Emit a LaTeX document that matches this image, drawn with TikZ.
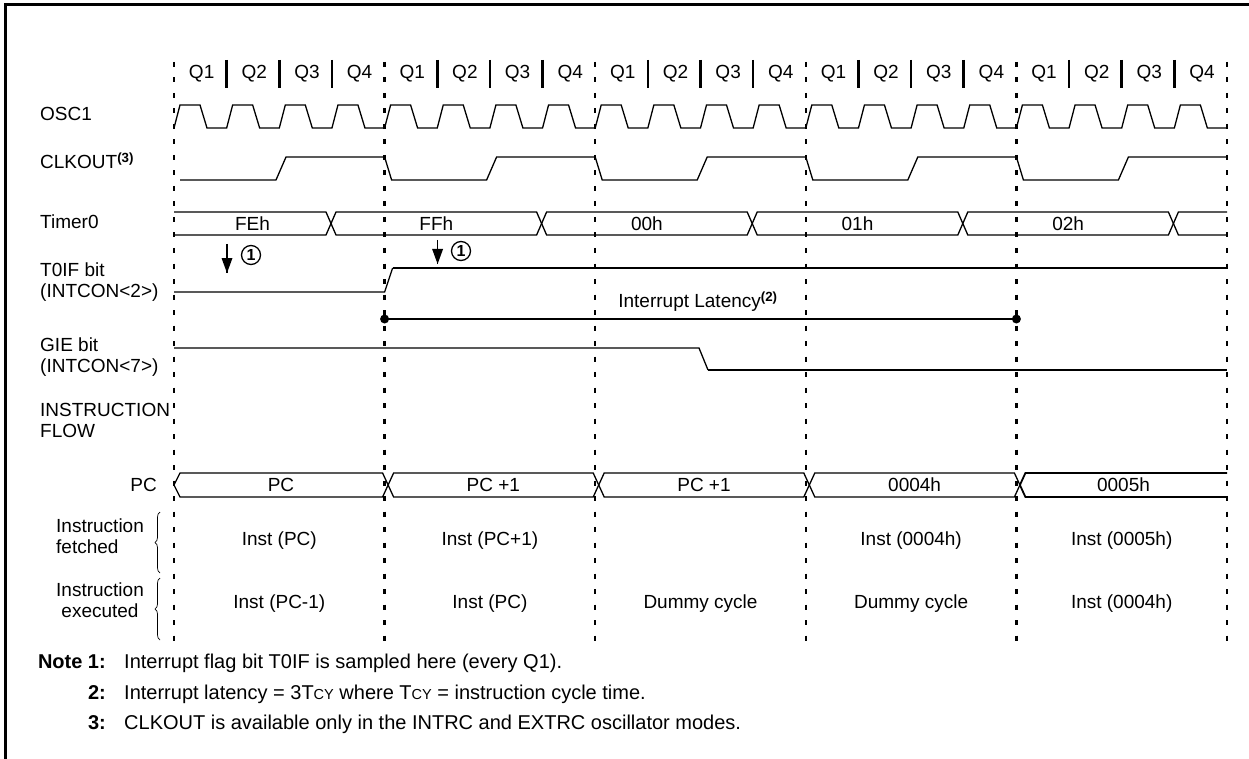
\documentclass[tikz,border=0pt]{standalone}
\usepackage{fontspec}
\setmainfont{Liberation Sans}
\usetikzlibrary{decorations.pathreplacing}

\begin{document}
\begin{tikzpicture}[x=1pt,y=1pt,yscale=-1,xscale=1,
  sig/.style={line width=1.3pt, line join=miter},
  guide/.style={line width=2.4pt, dash pattern=on 5pt off 10.5pt},
  qsep/.style={line width=2.6pt},
  lbl/.style={inner sep=0pt, font=\fontsize{19}{21}\selectfont},
  notetxt/.style={inner sep=0pt, anchor=base west, font=\fontsize{20}{22}\selectfont},
  notenum/.style={inner sep=0pt, anchor=base east, font=\fontsize{20}{22}\selectfont\bfseries},
  circnum/.style={circle, draw, line width=1.3pt, inner sep=0pt, minimum size=19pt, font=\fontsize{16}{16}\selectfont\bfseries},
  dot/.style={circle, fill, inner sep=0pt, minimum size=9pt},
  brc/.style={decorate, decoration={brace, amplitude=5pt}, line width=0.7pt}]
\useasboundingbox (0,0) rectangle (1249,759);

%Frame
\draw [line width=3pt] (5,759) -- (5,5) -- (1249,5);

%Cycle boundaries
\foreach \cx in {174,384.6,595.2,805.8,1016.4,1227} {
  \draw [guide] (\cx,62) -- (\cx,648);
}

%Q1..Q4 header
\foreach \k in {0,...,4} {
  \pgfmathsetmacro{\cx}{174+210.6*\k}
  \foreach \j in {1,2,3} {
    \draw [qsep] (\cx+52.65*\j,60) -- (\cx+52.65*\j,88);
  }
  \foreach \j in {1,...,4} {
    \node [lbl] (q\k\j) at (\cx+52.65*\j-25,74) {Q\j};
  }
}

% Text Node
\node [lbl, anchor=west] (osc) at (40,114) {OSC1};
\node [lbl, anchor=west] (clk) at (40,161) {CLKOUT\textsuperscript{\bfseries(3)}};
\node [lbl, anchor=west] (tmr) at (40,222) {Timer0};
\node [lbl, anchor=west, align=left] (toif) at (40,282) {T0IF bit\\(INTCON<2>)};
\node [lbl, anchor=west, align=left] (gie) at (40,357) {GIE bit\\(INTCON<7>)};
\node [lbl, anchor=west, align=left] (flow) at (40,420) {INSTRUCTION\\FLOW};
\node [lbl, anchor=east] (pc) at (157,485) {PC};
\node [lbl, anchor=west, align=left] (fetch) at (56,536) {Instruction\\fetched};
\node [lbl, align=center] (exec) at (100,600) {Instruction\\executed};

%OSC1
\draw [sig] (174,128) \foreach \i in {0,...,19} {
  -- ({174+52.65*\i+6},105) -- ({174+52.65*\i+26},105)
  -- ({174+52.65*\i+33},128) -- ({174+52.65*(\i+1)},128) };

%CLKOUT
\draw [sig] (180,180) -- (276,180) -- (286,157)
  \foreach \c in {384.6,595.2,805.8,1016.4} {
  -- (\c,157) -- (\c+7,180) -- (\c+102,180) -- (\c+112,157) } -- (1227,157);

%Timer0 bus
\draw [sig] (174,212) -- (326,212) -- (331,223.5) -- (326,235) -- (174,235);
\foreach \a/\b in {331/541.6,541.6/752.2,752.2/962.8,962.8/1173.4} {
  \draw [sig] (\a,223.5) -- (\a+5,212) -- (\b-5,212) -- (\b,223.5) -- (\b-5,235) -- (\a+5,235) -- cycle;
}
\draw [sig] (1227,212) -- (1178.4,212) -- (1173.4,223.5) -- (1178.4,235) -- (1227,235);
\node [lbl] (tfe) at (252.5,223.5) {FEh};
\node [lbl] (tff) at (436.3,223.5) {FFh};
\node [lbl] (t00) at (646.9,223.5) {00h};
\node [lbl] (t01) at (857.5,223.5) {01h};
\node [lbl] (t02) at (1068.1,223.5) {02h};

%T0IF
\draw [sig] (174,292) -- (384.6,292) -- (392.6,268);
\draw [sig, line width=1.9pt] (392.6,268) -- (1227,268);

%Sample points
\coordinate (sa1) at (227,244);
\coordinate (sb1) at (227,273);
\draw [sig, line width=1.6pt] (sa1) -- (sb1);
\fill [shift={(sb1)}] (-5.5,-15) -- (5.5,-15) -- (0,0) -- cycle;
\node [circnum] (one1) at (251,255) {1};
\coordinate (sa2) at (437.6,240);
\coordinate (sb2) at (437.6,264);
\draw [sig, line width=1.6pt] (sa2) -- (sb2);
\fill [shift={(sb2)}] (-5.5,-15) -- (5.5,-15) -- (0,0) -- cycle;
\node [circnum] (one2) at (461,251) {1};

%Interrupt latency
\node [dot] (lat0) at (384.6,319) {};
\node [dot] (lat1) at (1016.4,319) {};
\draw [line width=2.2pt] (lat0) -- (lat1);
\node [lbl] (latlbl) at (698,302) {Interrupt Latency\textsuperscript{\bfseries(2)}};

%GIE
\draw [sig] (174,348) -- (699,348) -- (708,370);
\draw [sig, line width=1.9pt] (708,370) -- (1227,370);

%PC bus
\draw [sig] (174,485) -- (180,473) -- (382.6,473) -- (388.1,485) -- (382.6,497) -- (180,497) -- cycle;
\foreach \a/\b in {388.1/598.7,598.7/809.3,809.3/1019.9} {
  \draw [sig] (\a,485) -- (\a+5.5,473) -- (\b-5.5,473) -- (\b,485) -- (\b-5.5,497) -- (\a+5.5,497) -- cycle;
}
\draw [sig, line width=1.8pt] (1227,473) -- (1025.4,473) -- (1019.9,485) -- (1025.4,497) -- (1227,497);
\node [lbl] (pc0) at (281,485) {PC};
\node [lbl] (pc1) at (493.4,485) {PC +1};
\node [lbl] (pc2) at (704,485) {PC +1};
\node [lbl] (pc3) at (914.6,485) {0004h};
\node [lbl] (pc4) at (1123.5,485) {0005h};

%Braces
\draw [brc] (160,573) -- (160,512);
\draw [brc] (160,640) -- (160,578);

%Instruction fetched
\node [lbl] (f0) at (279.3,541) {Inst (PC)};
\node [lbl] (f1) at (489.9,541) {Inst (PC+1)};
\node [lbl] (f3) at (911.1,541) {Inst (0004h)};
\node [lbl] (f4) at (1121.7,541) {Inst (0005h)};

%Instruction executed
\node [lbl] (e0) at (279.3,604) {Inst (PC-1)};
\node [lbl] (e1) at (489.9,604) {Inst (PC)};
\node [lbl] (e2) at (700.5,604) {Dummy cycle};
\node [lbl] (e3) at (911.1,604) {Dummy cycle};
\node [lbl] (e4) at (1121.7,604) {Inst (0004h)};

%Notes
\node [notenum] (n1) at (106,668) {Note 1:};
\node [notetxt] (n1t) at (124,668) {Interrupt flag bit T0IF is sampled here (every Q1).};
\node [notenum] (n2) at (106,699) {2:};
\node [notetxt] (n2t) at (124,699) {Interrupt latency = 3T{\fontsize{14.5}{14}\selectfont CY} where T{\fontsize{14.5}{14}\selectfont CY} = instruction cycle time.};
\node [notenum] (n3) at (106,729) {3:};
\node [notetxt] (n3t) at (124,729) {CLKOUT is available only in the INTRC and EXTRC oscillator modes.};

\end{tikzpicture}
\end{document}
